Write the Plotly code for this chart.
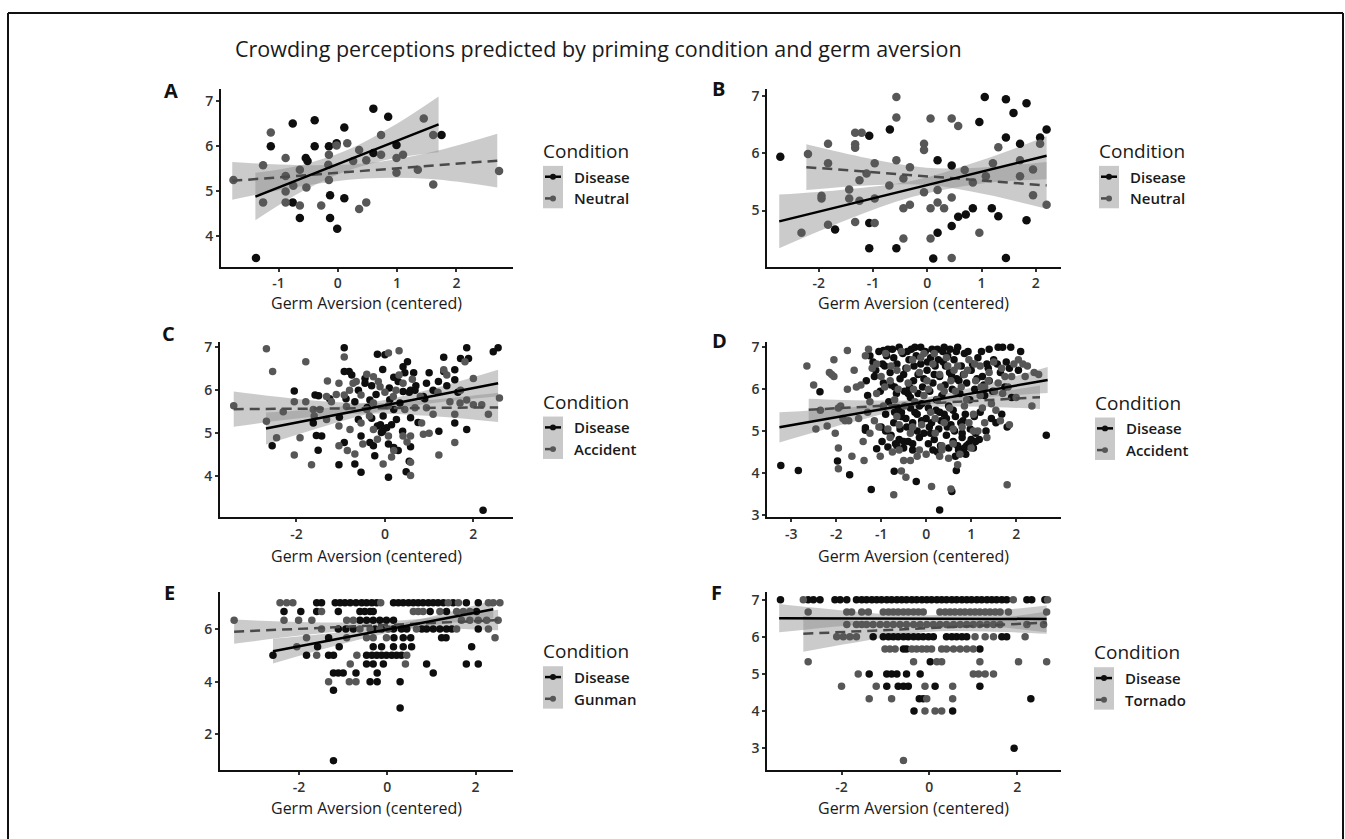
import plotly.graph_objects as go

# ------------------------------------------------------------------ data
title_text = "Crowding perceptions predicted by priming condition and germ aversion"
panel_letters = ["A", "B", "C", "D", "E", "F"]
other_conditions = ["Neutral", "Neutral", "Accident", "Accident", "Gunman", "Tornado"]
x_title = "Germ Aversion (centered)"
legend_title = "Condition"

# axis ranges and ticks
x_ranges = [[-1.97, 2.95], [-2.95, 2.46], [-3.73, 2.89], [-3.53, 2.99], [-3.79, 2.84], [-3.69, 2.99]]
y_ranges = [[3.32, 7.28], [4.02, 7.13], [3.05, 7.11], [2.94, 7.12], [0.65, 7.40], [2.42, 7.20]]
x_ticks = [[-2, -1, 0, 1, 2], [-2, -1, 0, 1, 2], [-2, 0, 2], [-3, -2, -1, 0, 1, 2], [-2, 0, 2], [-2, 0, 2]]
y_ticks = [[4, 5, 6, 7], [5, 6, 7], [4, 5, 6, 7], [3, 4, 5, 6, 7], [2, 4, 6], [3, 4, 5, 6, 7]]

# ---- panel A points
a_dis = [(-1.38, 3.51), (-1.13, 6.00), (-0.76, 6.51), (-0.76, 4.75), (-0.64, 4.40), (-0.54, 5.74),
         (-0.51, 5.67), (-0.39, 6.58), (-0.39, 6.00), (-0.15, 6.00), (-0.13, 4.91), (-0.13, 4.40),
         (-0.02, 6.07), (-0.01, 4.16), (0.11, 6.42), (0.11, 4.84), (0.60, 6.84), (0.60, 5.85),
         (0.85, 6.66), (0.99, 6.03), (1.75, 6.25)]
a_oth = [(-1.76, 5.25), (-1.26, 5.58), (-1.26, 4.75), (-1.13, 6.31), (-0.88, 5.74), (-0.88, 5.34),
         (-0.88, 4.99), (-0.88, 4.75), (-0.64, 5.48), (-0.64, 4.68), (-0.53, 5.08), (-0.28, 4.68),
         (-0.15, 5.81), (-0.15, 5.25), (-0.16, 5.59), (0.16, 6.07), (0.26, 5.67), (0.36, 4.60),
         (0.36, 5.92), (0.48, 5.69), (0.48, 4.75), (0.73, 6.25), (0.73, 5.81), (0.99, 5.74),
         (0.99, 5.41), (1.10, 5.81), (1.35, 5.48), (1.45, 6.62), (1.61, 6.25), (1.61, 5.15),
         (2.72, 5.45), (-0.02, 6.02), (-0.75, 5.12)]

# ---- panel B points
b_dis = [(-2.71, 5.94), (-1.70, 4.67), (-1.07, 4.34), (-1.07, 4.78), (-1.07, 6.31), (-0.69, 6.42),
         (-0.57, 4.34), (0.11, 4.16), (0.19, 5.88), (0.19, 4.61), (0.45, 5.79), (0.45, 4.73),
         (0.57, 4.89), (0.71, 4.93), (0.84, 5.04), (0.96, 6.55), (1.06, 6.99), (1.19, 5.04),
         (1.31, 4.90), (1.45, 6.95), (1.45, 6.28), (1.45, 4.17), (1.59, 6.71), (1.71, 6.17),
         (1.83, 6.88), (1.83, 4.83), (2.08, 6.28), (2.20, 6.42)]
b_oth = [(-2.32, 4.61), (-2.20, 5.99), (-1.95, 5.26), (-1.95, 5.21), (-1.83, 6.17), (-1.83, 5.83),
         (-1.83, 4.75), (-1.44, 5.37), (-1.44, 5.21), (-1.33, 6.16), (-1.33, 6.10), (-1.33, 6.36),
         (-1.33, 4.80), (-1.25, 5.53), (-1.25, 5.17), (-1.21, 6.36), (-1.12, 5.65), (-0.97, 5.83),
         (-0.97, 5.21), (-0.97, 4.78), (-0.70, 5.44), (-0.57, 6.63), (-0.57, 6.99), (-0.57, 5.88),
         (-0.44, 5.56), (-0.44, 5.04), (-0.44, 4.51), (-0.32, 5.76), (-0.32, 5.10), (-0.06, 6.17),
         (-0.06, 6.06), (-0.06, 5.32), (0.06, 6.61), (0.06, 5.04), (0.06, 4.51), (0.19, 5.36),
         (0.19, 5.14), (0.31, 5.04), (0.45, 6.61), (0.45, 5.23), (0.45, 4.17), (0.57, 6.48),
         (0.69, 5.71), (0.84, 5.49), (0.96, 4.61), (1.08, 5.60), (1.21, 5.83), (1.31, 6.11),
         (1.71, 5.60), (1.71, 5.88), (1.95, 5.27), (1.95, 5.72), (2.08, 6.17), (2.20, 5.10)]

# ---- panel C points
c_dis = [(-2.55, 4.71), (-2.05, 5.98), (-1.58, 5.89), (-1.50, 5.87), (-1.55, 4.95), (-1.43, 4.94),
         (-1.51, 4.61), (-1.04, 4.27), (-1.03, 5.37), (-0.92, 6.98), (-0.92, 6.43), (-0.81, 6.43),
         (-0.92, 4.79), (-0.68, 5.73), (-0.68, 4.29), (-0.54, 4.10), (-0.54, 4.94), (-0.45, 6.27),
         (-0.45, 6.16), (-0.34, 5.77), (-0.26, 4.71), (-0.23, 4.48), (-0.17, 6.83), (-0.17, 5.17),
         (-0.08, 5.02), (-0.05, 6.48), (0.04, 5.13), (0.08, 3.98), (0.08, 4.75), (0.20, 5.55),
         (0.20, 6.30), (0.20, 4.67), (0.41, 5.97), (0.41, 6.54), (0.48, 4.11), (0.51, 6.66),
         (0.58, 6.00), (0.58, 4.69), (0.58, 5.36), (0.68, 6.00), (0.94, 6.16), (1.09, 6.00),
         (1.21, 6.20), (1.22, 5.05), (1.33, 6.76), (1.33, 6.43), (1.58, 5.24), (1.58, 6.47),
         (1.58, 6.24), (1.71, 6.73), (1.85, 6.98), (1.85, 5.09), (1.89, 6.73), (2.22, 3.22),
         (2.45, 6.89), (2.56, 6.98), (-1.62, 5.24), (-0.34, 4.79), (-0.04, 5.40), (0.11, 5.78),
         (0.34, 5.70), (0.87, 5.85), (0.26, 5.32), (-0.60, 5.32), (-0.10, 5.20), (0.30, 4.60),
         (0.55, 4.35), (-0.40, 5.60), (0.65, 6.40), (0.00, 6.82),
         (-1.25, 5.80), (-0.88, 5.80), (-0.75, 6.35), (-0.60, 6.00), (-0.30, 6.10), (-0.20, 5.90),
         (0.10, 6.05), (0.30, 6.20), (0.45, 6.40), (0.55, 5.95), (0.70, 6.10), (0.75, 5.25),
         (0.90, 5.80), (1.00, 6.40), (1.40, 6.10), (1.65, 5.95), (-0.05, 5.05), (0.15, 5.20),
         (-0.30, 5.35), (0.40, 5.05)]
c_oth = [(-3.42, 5.64), (-2.68, 6.96), (-2.68, 5.28), (-2.54, 6.43), (-2.45, 4.90), (-2.05, 4.50),
         (-2.05, 5.73), (-1.92, 4.90), (-1.79, 6.66), (-1.79, 5.73), (-1.66, 4.27), (-1.62, 5.55),
         (-1.30, 6.21), (-1.32, 5.32), (-1.21, 5.73), (-1.04, 6.16), (-1.04, 4.71), (-1.04, 5.17),
         (-0.92, 6.77), (-0.92, 5.89), (-0.79, 5.09), (-0.68, 4.52), (-0.54, 5.89), (-0.54, 5.24),
         (-0.41, 6.37), (-0.41, 5.55), (-0.26, 5.70), (-0.17, 4.86), (-0.04, 4.29), (0.08, 6.86),
         (0.08, 5.64), (0.08, 4.94), (0.20, 4.60), (0.32, 6.91), (0.32, 6.35), (0.41, 4.94),
         (0.58, 4.02), (0.58, 4.33), (0.58, 4.94), (0.68, 5.59), (0.83, 5.24), (0.87, 4.98),
         (0.94, 5.59), (1.09, 5.44), (1.22, 4.50), (1.33, 6.47), (1.47, 5.73), (1.58, 4.79),
         (1.58, 5.44), (1.71, 6.00), (1.81, 6.66), (1.85, 5.77), (2.00, 6.27), (2.19, 5.66),
         (2.34, 5.44), (2.59, 5.82), (2.00, 5.66), (-0.72, 6.16), (-0.26, 6.31), (-0.11, 6.08),
         (0.19, 5.85), (0.41, 6.16), (-0.26, 5.09), (-1.32, 5.85), (-1.47, 5.55), (-0.87, 5.62),
         (-1.10, 5.90), (-0.80, 6.00), (-0.65, 6.20), (-0.35, 5.40), (-0.15, 6.20), (0.00, 5.95),
         (0.25, 6.00), (0.45, 5.55), (0.62, 6.25), (0.80, 5.85), (1.20, 5.95), (1.40, 6.35),
         (1.70, 5.70), (0.15, 4.45), (-0.50, 4.75), (0.50, 4.80), (-0.85, 4.60), (1.00, 5.00),
         (-1.60, 5.40), (-2.30, 5.50)]

# ---- panel D points
d_dis = [(-3.23, 4.18), (-2.84, 4.06), (-2.36, 5.94), (-1.97, 4.29), (-1.70, 3.96), (-1.22, 3.61),
         (-0.71, 4.04), (-0.22, 3.80), (0.30, 3.12), (0.57, 3.56), (0.67, 4.06), (2.67, 4.90),
         (-1.35, 5.02), (-1.35, 5.08), (-1.33, 6.20), (-1.30, 5.85), (-1.18, 6.65), (-1.15, 6.30),
         (-1.10, 4.58), (-1.05, 6.90), (-1.02, 5.95), (-0.98, 4.75), (-0.95, 6.15), (-0.92, 6.55),
         (-0.90, 5.40), (-0.88, 6.80), (-0.85, 4.62), (-0.83, 5.70), (-0.80, 6.40), (-0.78, 4.90),
         (-0.75, 6.95), (-0.72, 5.20), (-0.70, 6.05), (-0.68, 4.70), (-0.65, 6.60), (-0.62, 5.55),
         (-0.60, 4.80), (-0.58, 6.25), (-0.55, 5.35), (-0.52, 6.85), (-0.50, 4.60), (-0.48, 5.95),
         (-0.45, 6.50), (-0.43, 5.10), (-0.40, 4.75), (-0.38, 6.70), (-0.35, 5.80), (-0.33, 6.95),
         (-0.30, 4.55), (-0.28, 6.20), (-0.25, 5.45), (-0.22, 6.80), (-0.20, 5.00), (-0.18, 6.35),
         (-0.15, 4.85), (-0.12, 6.60), (-0.10, 5.65), (-0.08, 6.05), (-0.05, 4.95), (-0.02, 6.90),
         (0.00, 5.30), (0.02, 6.45), (0.05, 4.70), (0.08, 5.95), (0.10, 6.75), (0.12, 5.20),
         (0.15, 6.15), (0.18, 4.80), (0.20, 6.55), (0.22, 5.50), (0.25, 6.95), (0.28, 5.05),
         (0.30, 6.30), (0.32, 4.65), (0.35, 5.85), (0.38, 6.65), (0.40, 5.40), (0.42, 6.10),
         (0.45, 4.90), (0.48, 6.80), (0.50, 5.60), (0.52, 6.40), (0.55, 5.15), (0.58, 6.00),
         (0.60, 4.75), (0.62, 6.70), (0.65, 5.35), (0.68, 6.25), (0.72, 4.55), (0.75, 5.90),
         (0.78, 6.55), (0.80, 4.85), (0.82, 5.25), (0.85, 6.85), (0.88, 4.45), (0.90, 6.15),
         (0.95, 4.70), (0.98, 5.05), (1.00, 6.45), (1.05, 4.60), (1.08, 6.00), (1.10, 4.95),
         (1.15, 6.75), (1.20, 5.45), (1.25, 6.30), (1.30, 5.85), (1.35, 6.60), (1.40, 6.20),
         (1.45, 5.30), (1.50, 6.70), (1.55, 5.20), (1.60, 7.00), (1.65, 6.40), (1.70, 7.00),
         (1.75, 6.05), (1.80, 5.10), (1.85, 6.50), (1.90, 5.80), (2.05, 6.45), (2.10, 6.90),
         (0.70, 7.00), (0.40, 7.00), (-0.25, 7.00), (-0.60, 7.00), (-0.95, 6.92), (1.40, 6.95),
         (-0.55, 5.45), (-0.45, 5.30), (-0.35, 5.55), (-0.20, 5.40), (-0.10, 5.25), (0.05, 5.55),
         (0.30, 5.45), (0.45, 5.30), (0.60, 5.50), (0.80, 4.95), (0.90, 4.65), (1.00, 4.80),
         (-0.65, 4.65), (-0.50, 4.75), (-0.30, 4.70), (0.15, 4.55), (0.70, 4.65), (0.85, 4.60),
         (-1.25, 6.80), (-1.12, 6.45), (-1.00, 5.10), (-0.97, 6.60), (-0.85, 6.95), (-0.78, 6.10),
         (-0.72, 6.75), (-0.66, 5.90), (-0.58, 5.05), (-0.50, 6.35), (-0.42, 6.90), (-0.37, 6.05),
         (-0.30, 5.20), (-0.27, 6.55), (-0.18, 5.90), (-0.12, 7.00), (-0.05, 6.25), (0.03, 6.65),
         (0.07, 5.10), (0.13, 6.95), (0.18, 6.35), (0.23, 5.75), (0.27, 6.70), (0.33, 5.25),
         (0.37, 6.90), (0.43, 6.55), (0.47, 5.10), (0.53, 6.95), (0.57, 6.30), (0.63, 5.00),
         (0.67, 6.90), (0.73, 6.20), (0.77, 5.20), (0.83, 6.35), (0.87, 5.40), (0.93, 6.90),
         (0.97, 5.75), (1.03, 6.60), (1.07, 5.35), (1.13, 6.25), (1.18, 4.80), (1.23, 6.90),
         (1.28, 6.10), (1.33, 5.00), (1.38, 6.50), (1.48, 5.95), (1.58, 6.60), (1.68, 5.40),
         (1.78, 6.65), (1.88, 7.00), (-0.90, 5.00), (-0.70, 5.45), (-0.40, 5.90), (-0.15, 5.60),
         (0.10, 4.95), (0.25, 4.50), (0.50, 4.60), (0.65, 4.40), (0.75, 4.50), (1.10, 4.75)]
d_oth = [(-2.65, 6.55), (-2.50, 6.10), (-2.45, 5.05), (-2.20, 5.12), (-2.15, 6.40), (-2.05, 6.70),
         (-2.05, 6.30), (-2.02, 4.95), (-1.95, 4.60), (-1.95, 4.10), (-1.95, 5.55), (-1.85, 5.30),
         (-1.75, 6.92), (-1.75, 6.00), (-1.72, 5.25), (-1.65, 4.40), (-1.60, 6.45), (-1.50, 5.30),
         (-1.45, 6.10), (-1.40, 4.75), (-1.38, 4.30), (-1.35, 6.80), (-1.30, 5.45), (-1.25, 5.70),
         (-1.20, 6.50), (-1.15, 5.25), (-1.10, 5.90), (-1.05, 5.10), (-1.00, 6.30), (-0.95, 5.60),
         (-0.90, 6.85), (-0.85, 5.05), (-0.80, 6.20), (-0.75, 4.50), (-0.70, 5.75), (-0.65, 6.45),
         (-0.60, 5.15), (-0.55, 6.90), (-0.50, 4.30), (-0.48, 5.60), (-0.45, 3.90), (-0.40, 6.15),
         (-0.35, 4.95), (-0.30, 6.70), (-0.25, 5.70), (-0.20, 4.40), (-0.15, 6.40), (-0.10, 5.15),
         (-0.05, 6.85), (0.00, 4.45), (0.05, 6.00), (0.10, 5.45), (0.12, 3.68), (0.15, 6.60),
         (0.20, 4.95), (0.25, 5.75), (0.30, 6.35), (0.35, 4.55), (0.40, 5.20), (0.45, 6.75),
         (0.50, 4.35), (0.52, 5.55), (0.55, 6.20), (0.60, 4.70), (0.65, 5.95), (0.70, 6.55),
         (0.75, 4.45), (0.80, 5.10), (0.85, 6.35), (0.90, 5.75), (0.95, 6.70), (1.00, 4.60),
         (1.05, 5.40), (1.10, 6.20), (1.15, 5.00), (1.20, 6.55), (1.25, 5.55), (1.30, 6.05),
         (1.35, 4.85), (1.40, 6.40), (1.45, 5.65), (1.50, 6.65), (1.55, 5.50), (1.60, 6.15),
         (1.65, 5.25), (1.70, 5.90), (1.75, 6.30), (1.80, 3.72), (1.85, 5.15), (1.95, 6.60),
         (2.00, 5.80), (2.05, 6.70), (2.15, 6.60), (2.25, 6.55), (2.35, 5.60), (2.40, 6.40),
         (2.50, 6.35), (-0.72, 3.48), (0.55, 3.62), (-0.35, 4.30), (-0.60, 4.55), (0.35, 4.65),
         (-2.35, 5.50), (-1.80, 5.25), (-0.80, 4.85), (0.20, 5.30), (0.95, 5.20), (1.20, 5.85),
         (-2.10, 6.35), (-1.90, 5.60), (-1.55, 6.05), (-1.28, 6.95), (-1.10, 6.60), (-0.92, 6.05),
         (-0.78, 6.55), (-0.62, 6.00), (-0.42, 6.50), (-0.28, 6.00), (-0.12, 6.75), (0.02, 6.20),
         (0.18, 6.85), (0.32, 6.05), (0.48, 6.55), (0.62, 6.45), (0.78, 6.05), (0.92, 6.45),
         (1.08, 6.60), (1.22, 6.05), (1.38, 6.20), (1.52, 5.95), (1.68, 6.50), (1.82, 6.05),
         (-1.02, 4.40), (-0.55, 4.05), (-0.15, 4.55), (0.30, 4.40), (0.70, 4.20), (1.05, 5.00),
         (-0.30, 5.10), (0.60, 5.05), (-1.25, 4.95), (1.30, 5.20), (1.90, 6.30), (2.20, 6.30),
         (-0.05, 5.85), (0.40, 5.95), (-0.65, 5.35), (0.85, 5.60)]

# ---- panel E points (responses fall on rows)
e_dis_rows_y = [7, 6.67, 6.33, 6, 5.67, 5.33, 5, 4.67, 4.33, 4, 3.67, 3, 1]
e_dis_rows_x = [
    [-1.60, -1.49, -1.18, -1.07, -0.96, -0.84, -0.71, -0.58, -0.47, -0.35, -0.24, 0.14, 0.25, 0.36,
     0.48, 0.59, 0.70, 0.81, 0.93, 1.04, 1.15, 1.27, 1.49, 1.79, 2.06],
    [-2.34, -1.96, -1.60, -1.11, -0.62, -0.51, -0.39, -0.32, 0.97, 1.34, 2.02],
    [-0.62, -0.47, -0.32, -0.17, -0.02, 0.14],
    [-1.11, -0.94, -0.77, -0.28, -0.13, 0.14, 0.32, 0.44, 0.78, 0.89, 1.04, 1.19, 1.34, 1.46, 2.06],
    [-1.33, 0.15, 0.36, 0.53, 1.23, 1.33],
    [-1.58, -1.09, -0.32, -0.13, 0.14, 0.36, 0.55, 1.91],
    [-2.59, -1.83, -1.33, -1.22, -0.47, -0.35, -0.24, -0.13, -0.02, 0.10, 0.21, 0.32],
    [-0.47, -0.32, -0.09, 0.89, 1.79, 2.06],
    [-1.22, -1.11, -1.00, -0.71, -0.23, 1.04],
    [-0.39, -0.23, 0.29],
    [-1.22],
    [0.29],
    [-1.22]]
e_oth_rows_y = [7, 6.67, 6.33, 6, 5.67, 5.33, 5, 4.67, 4]
e_oth_rows_x = [
    [-2.43, -2.28, -2.14, -0.15, 1.38, 1.61, 2.29, 2.40, 2.55],
    [-1.49, 0.59, 0.70, 0.81, 1.19, 1.57, 1.72, 1.87],
    [-3.47, -2.34, -2.01, -1.71, -0.92, -0.77, 1.68, 1.87, 2.06, 2.25, 2.51],
    [-1.49, -0.62, -0.39, -0.17, 0.02, 0.66, 1.57, 2.29],
    [-1.83, -0.92, -0.47, -0.32, -0.02, 2.44],
    [-2.05],
    [-1.60, -0.69, 0.44],
    [-0.84, 0.41],
    [-1.33, -0.86, -0.71]]

# ---- panel F points (responses fall on rows)
f_dis_rows_y = [7, 6, 5.67, 5.33, 5, 4.67, 4.33, 4, 3]
f_dis_rows_x = [
    [-3.39, -2.76, -2.64, -2.49, -2.15, -2.03, -1.88, -1.66, -1.54, -1.43, -1.31, -1.20, -1.09, -0.97,
     -0.86, -0.74, -0.63, -0.52, -0.40, -0.29, -0.17, -0.06, 0.05, 0.17, 0.28, 0.39, 0.51, 0.62, 0.74,
     0.85, 0.96, 1.08, 1.19, 1.31, 1.42, 1.53, 1.65, 1.76, 2.22, 2.33, 2.63],
    [-1.28, -1.05, -0.93, -0.82, -0.71, -0.59, -0.48, -0.36, -0.25, -0.14, -0.02, 0.09, 0.39, 0.51,
     0.62, 0.74, 0.85, 1.65, 1.76],
    [-0.59, -0.52, 1.15],
    [0.02],
    [-1.37, -0.97, -0.86, -0.74, -0.52, -0.21],
    [-0.97, -0.71, -0.59, -0.48, 0.13, 1.15],
    [-0.23, -0.14, 2.31],
    [-0.35, 0.53],
    [1.93]]
f_oth_rows_y = [7, 6.67, 6.33, 6, 5.67, 5.33, 5, 4.67, 4.33, 4, 2.67]
f_oth_rows_x = [
    [-2.87, 1.91, 2.69],
    [-2.76, -1.88, -1.77, -1.54, -1.39, -1.05, -0.93, -0.82, -0.71, -0.59, -0.48, -0.36, -0.25, -0.14,
     0.24, 0.36, 0.47, 0.58, 0.70, 0.81, 0.93, 1.04, 1.15, 1.27, 1.38, 1.50, 1.61, 1.80, 2.67],
    [-1.88, -1.66, -1.54, -1.43, -1.28, -1.12, -0.97, -0.82, -0.67, -0.52, -0.36, -0.21, -0.06, 0.09,
     0.24, 0.39, 0.55, 0.70, 0.85, 1.00, 1.15, 1.31, 1.46, 1.61, 2.22, 2.60],
    [-2.11, -1.96, -1.81, -1.66, 1.04, 1.27, 1.46, 2.18],
    [-1.01, -0.90, -0.78, -0.40, -0.29, -0.17, -0.06, 0.05, 0.28, 0.39, 0.55, 0.70, 0.85, 1.00],
    [-2.76, -0.36, 0.17, 0.28, 1.15, 2.03, 2.67],
    [-1.62, 1.00, 1.12, 1.27, 1.46],
    [-2.00, -1.21, -0.10, 0.53],
    [-1.37, -0.86, -0.06, 0.53],
    [-0.10, 0.13, 0.28],
    [-0.59]]

# ---- fitted lines with confidence bands
a_dis_fx = [-1.39, -0.62, 0.15, 0.93, 1.70]
a_dis_fy = [4.88, 5.28, 5.68, 6.09, 6.49]
a_dis_lo = [4.35, 4.98, 5.45, 5.73, 5.87]
a_dis_hi = [5.41, 5.58, 5.91, 6.45, 7.11]
a_oth_fx = [-1.78, -0.66, 0.46, 1.57, 2.69]
a_oth_fy = [5.23, 5.34, 5.45, 5.57, 5.68]
a_oth_lo = [4.81, 5.10, 5.28, 5.27, 5.08]
a_oth_hi = [5.65, 5.58, 5.62, 5.87, 6.28]

b_dis_fx = [-2.73, -1.50, -0.27, 0.97, 2.20]
b_dis_fy = [4.81, 5.10, 5.38, 5.67, 5.96]
b_dis_lo = [4.34, 4.83, 5.24, 5.47, 5.55]
b_dis_hi = [5.28, 5.37, 5.52, 5.87, 6.30]
b_oth_fx = [-2.23, -1.12, -0.02, 1.09, 2.20]
b_oth_fy = [5.76, 5.68, 5.60, 5.52, 5.44]
b_oth_lo = [5.36, 5.44, 5.45, 5.28, 5.03]
b_oth_hi = [6.16, 5.92, 5.75, 5.76, 5.85]

c_dis_fx = [-2.69, -1.38, -0.07, 1.25, 2.56]
c_dis_fy = [5.11, 5.37, 5.64, 5.90, 6.16]
c_dis_lo = [4.74, 5.16, 5.52, 5.72, 5.85]
c_dis_hi = [5.48, 5.58, 5.76, 6.08, 6.47]
c_oth_fx = [-3.42, -1.93, -0.43, 1.06, 2.56]
c_oth_fy = [5.56, 5.57, 5.58, 5.59, 5.60]
c_oth_lo = [5.15, 5.35, 5.46, 5.40, 5.26]
c_oth_hi = [5.97, 5.79, 5.70, 5.78, 5.94]

d_dis_fx = [-3.26, -1.77, -0.28, 1.21, 2.70]
d_dis_fy = [5.09, 5.37, 5.66, 5.94, 6.22]
d_dis_lo = [4.73, 5.18, 5.57, 5.79, 5.91]
d_dis_hi = [5.45, 5.56, 5.75, 6.09, 6.53]
d_oth_fx = [-2.61, -1.33, -0.04, 1.24, 2.53]
d_oth_fy = [5.51, 5.58, 5.66, 5.73, 5.81]
d_oth_lo = [5.25, 5.43, 5.57, 5.58, 5.53]
d_oth_hi = [5.77, 5.73, 5.75, 5.88, 6.09]

e_dis_fx = [-2.59, -1.34, -0.10, 1.15, 2.40]
e_dis_fy = [5.16, 5.56, 5.95, 6.35, 6.75]
e_dis_lo = [4.69, 5.29, 5.81, 6.17, 6.41]
e_dis_hi = [5.63, 5.83, 6.09, 6.53, 7.09]
e_oth_fx = [-3.47, -1.97, -0.48, 1.02, 2.51]
e_oth_fy = [5.90, 6.01, 6.12, 6.23, 6.34]
e_oth_lo = [5.44, 5.75, 5.98, 6.03, 5.95]
e_oth_hi = [6.36, 6.27, 6.26, 6.43, 6.73]

f_dis_fx = [-3.42, -1.90, -0.38, 1.15, 2.67]
f_dis_fy = [6.50, 6.50, 6.49, 6.49, 6.48]
f_dis_lo = [6.12, 6.30, 6.41, 6.31, 6.12]
f_dis_hi = [6.88, 6.70, 6.57, 6.67, 6.84]
f_oth_fx = [-2.87, -1.49, -0.10, 1.29, 2.67]
f_oth_fy = [6.08, 6.15, 6.23, 6.30, 6.38]
f_oth_lo = [5.60, 5.89, 6.13, 6.14, 6.08]
f_oth_hi = [6.56, 6.41, 6.33, 6.46, 6.68]

# ------------------------------------------------------------------ styling / layout
W, H = 1345, 839
FONT = "Open Sans"
DIS_COL = "#0e0e0e"
OTH_COL = "#575757"
OTH_LINE = "#4a4a4a"
BAND = "rgba(140,140,140,0.45)"
KEY_BG = "#c9c9c9"

# plot areas in pixels: (left, right, top, bottom)
boxes = [(221, 512.7, 85, 265), (767.3, 1060.7, 85, 265),
         (220, 512.7, 341.7, 519.3), (767.3, 1060.7, 341.7, 519.3),
         (220, 512.7, 595, 775), (767.3, 1060.7, 595, 775)]
marker_sizes = [8.5, 8.5, 7.5, 7.5, 7.5, 7.5]
letter_pos = [(171, 87), (718, 85), (168, 333), (719, 340), (169, 595), (716, 595)]
xtitle_y = [302, 302, 558, 558, 814, 814]
legend_pos = [(541, 0), (1097, 0), (541, 254), (1093, 255), (541, 507), (1092, 508)]


def rows_to_pts(rows_y, rows_x):
    pts = []
    for yv, xs in zip(rows_y, rows_x):
        for xv in xs:
            pts.append((xv, yv))
    return pts


dis_points = [a_dis, b_dis, c_dis, d_dis,
              rows_to_pts(e_dis_rows_y, e_dis_rows_x), rows_to_pts(f_dis_rows_y, f_dis_rows_x)]
oth_points = [a_oth, b_oth, c_oth, d_oth,
              rows_to_pts(e_oth_rows_y, e_oth_rows_x), rows_to_pts(f_oth_rows_y, f_oth_rows_x)]
dis_fits = [(a_dis_fx, a_dis_fy, a_dis_lo, a_dis_hi), (b_dis_fx, b_dis_fy, b_dis_lo, b_dis_hi),
            (c_dis_fx, c_dis_fy, c_dis_lo, c_dis_hi), (d_dis_fx, d_dis_fy, d_dis_lo, d_dis_hi),
            (e_dis_fx, e_dis_fy, e_dis_lo, e_dis_hi), (f_dis_fx, f_dis_fy, f_dis_lo, f_dis_hi)]
oth_fits = [(a_oth_fx, a_oth_fy, a_oth_lo, a_oth_hi), (b_oth_fx, b_oth_fy, b_oth_lo, b_oth_hi),
            (c_oth_fx, c_oth_fy, c_oth_lo, c_oth_hi), (d_oth_fx, d_oth_fy, d_oth_lo, d_oth_hi),
            (e_oth_fx, e_oth_fy, e_oth_lo, e_oth_hi), (f_oth_fx, f_oth_fy, f_oth_lo, f_oth_hi)]

fig = go.Figure()
layout_axes = {}
annotations = []
shapes = []


def px(v):
    return v / W


def py(v):
    return 1 - v / H


for i in range(6):
    n = "" if i == 0 else str(i + 1)
    xa, ya = "x" + n, "y" + n
    l, r, t, b = boxes[i]
    common = dict(showline=True, linecolor="#111111", linewidth=2, ticks="outside", ticklen=3,
                  tickwidth=1.5, tickcolor="#333333", showgrid=False, zeroline=False,
                  tickfont=dict(family=FONT, size=14, color="#333333", weight=600))
    layout_axes["xaxis" + n] = dict(common, domain=[px(l), px(r)], range=x_ranges[i], anchor=ya,
                                    tickvals=x_ticks[i], ticktext=[str(v) for v in x_ticks[i]])
    layout_axes["yaxis" + n] = dict(common, domain=[py(b), py(t)], range=y_ranges[i], anchor=xa,
                                    tickvals=y_ticks[i], ticktext=[str(v) for v in y_ticks[i]])

    # confidence bands
    for (fx, fy, lo, hi) in (oth_fits[i], dis_fits[i]):
        fig.add_trace(go.Scatter(x=fx, y=lo, mode="lines", line=dict(width=0, shape="spline"),
                                 xaxis=xa, yaxis=ya, showlegend=False, hoverinfo="skip"))
        fig.add_trace(go.Scatter(x=fx, y=hi, mode="lines", line=dict(width=0, shape="spline"),
                                 fill="tonexty", fillcolor=BAND,
                                 xaxis=xa, yaxis=ya, showlegend=False, hoverinfo="skip"))
    # points
    dp = dis_points[i]
    op = oth_points[i]
    fig.add_trace(go.Scatter(x=[p[0] for p in dp], y=[p[1] for p in dp], mode="markers",
                             marker=dict(size=marker_sizes[i], color=DIS_COL), xaxis=xa, yaxis=ya,
                             showlegend=False, name="Disease"))
    fig.add_trace(go.Scatter(x=[p[0] for p in op], y=[p[1] for p in op], mode="markers",
                             marker=dict(size=marker_sizes[i], color=OTH_COL), xaxis=xa, yaxis=ya,
                             showlegend=False, name=other_conditions[i]))
    # fitted lines
    fx, fy, _, _ = oth_fits[i]
    fig.add_trace(go.Scatter(x=fx, y=fy, mode="lines",
                             line=dict(color=OTH_LINE, width=2.5, dash="10px,6px"),
                             xaxis=xa, yaxis=ya, showlegend=False, hoverinfo="skip"))
    fx, fy, _, _ = dis_fits[i]
    fig.add_trace(go.Scatter(x=fx, y=fy, mode="lines", line=dict(color="#000000", width=2.5),
                             xaxis=xa, yaxis=ya, showlegend=False, hoverinfo="skip"))

    # panel letter
    lx, ly = letter_pos[i]
    annotations.append(dict(x=px(lx), y=py(ly), xref="paper", yref="paper",
                            text="<b>%s</b>" % panel_letters[i],
                            showarrow=False, xanchor="center", yanchor="middle",
                            font=dict(family=FONT, size=20, color="#111111")))
    # x axis title
    annotations.append(dict(x=px((l + r) / 2), y=py(xtitle_y[i]), xref="paper", yref="paper", text=x_title,
                            showarrow=False, xanchor="center", yanchor="middle",
                            font=dict(family=FONT, size=16, color="#1a1a1a")))
    # legend
    gx, dy = legend_pos[i]
    annotations.append(dict(x=px(gx), y=py(148 + dy), xref="paper", yref="paper", text=legend_title,
                            showarrow=False, xanchor="left", yanchor="middle",
                            font=dict(family=FONT, size=19, color="#1a1a1a")))
    shapes.append(dict(type="rect", xref="paper", yref="paper", x0=px(gx + 2), x1=px(gx + 22),
                       y0=py(206 + dy), y1=py(163 + dy), fillcolor=KEY_BG, line=dict(width=0),
                       layer="above"))
    for k, (lab, col, dash, ky) in enumerate([("Disease", "#000000", "solid", 174),
                                               (other_conditions[i], OTH_LINE, "dash", 196)]):
        shapes.append(dict(type="line", xref="paper", yref="paper", x0=px(gx + 4), x1=px(gx + 20),
                           y0=py(ky + dy), y1=py(ky + dy), line=dict(color=col, width=2.5, dash=dash),
                           layer="above"))
        shapes.append(dict(type="circle", xref="paper", yref="paper", x0=px(gx + 9), x1=px(gx + 15),
                           y0=py(ky + dy + 3), y1=py(ky + dy - 3),
                           fillcolor=DIS_COL if k == 0 else OTH_COL,
                           line=dict(width=0), layer="above"))
        annotations.append(dict(x=px(gx + 31), y=py(ky + dy), xref="paper", yref="paper", text=lab,
                                showarrow=False, xanchor="left", yanchor="middle",
                                font=dict(family=FONT, size=15, color="#1a1a1a", weight=600)))

# title
annotations.append(dict(x=px(598), y=py(44), xref="paper", yref="paper", text=title_text, showarrow=False,
                        xanchor="center", yanchor="middle",
                        font=dict(family=FONT, size=21.5, color="#1a1a1a")))

# outer frame
for (x0, y0, x1, y1) in [(8, 8, 1343, 8), (8, 8, 8, 845), (1343, 8, 1343, 845)]:
    shapes.append(dict(type="line", xref="paper", yref="paper", x0=px(x0), x1=px(x1), y0=py(y0), y1=py(y1),
                       line=dict(color="#111111", width=2)))

fig.update_layout(width=W, height=H, margin=dict(l=0, r=0, t=0, b=0),
                  paper_bgcolor="white", plot_bgcolor="white", showlegend=False,
                  annotations=annotations, shapes=shapes, **layout_axes)

fig.write_html("out.html", config={"displayModeBar": False},
               post_script="document.body.style.margin='0px';document.body.style.overflow='hidden';")
